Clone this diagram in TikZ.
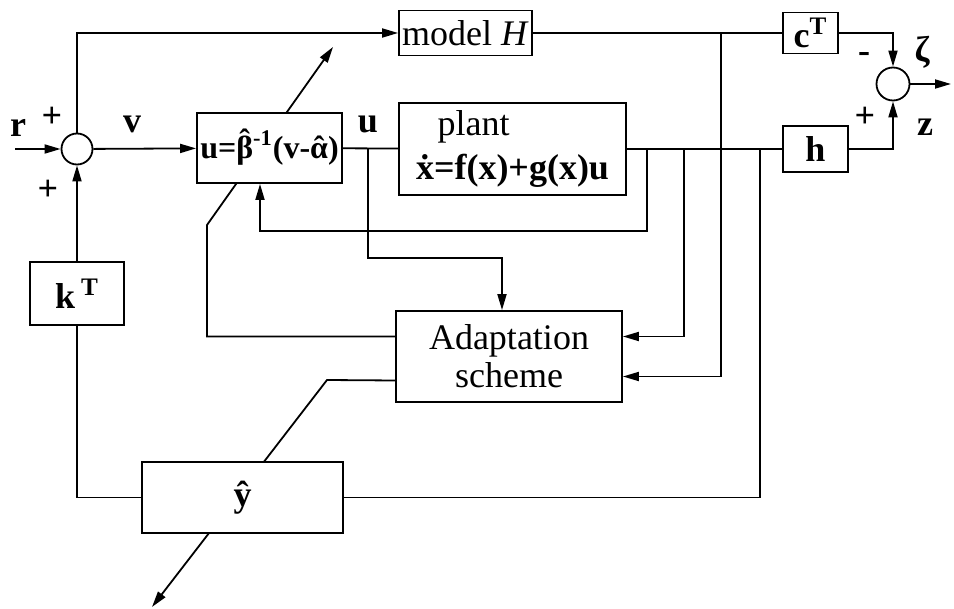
\documentclass[tikz,border=0pt]{standalone}
\usepackage{amsmath,amssymb}
\usepackage{fontspec}
\setmainfont{Liberation Serif}
\usepackage{tikz}
\usetikzlibrary{calc,arrows.meta,backgrounds}
\newcommand{\hatsym}[2]{\ooalign{#1\cr\hidewidth\raisebox{#2}{ˆ}\hidewidth\cr}}
\tikzset{
  blk/.style={draw, line width=0.9pt, fill=white, inner sep=1pt, font=\fontsize{18}{19}\selectfont},
  sumj/.style={draw, circle, line width=0.9pt, fill=white, inner sep=0pt},
  sig/.style={draw, line width=0.9pt, -{Triangle[length=8pt,width=4.5pt]}},
  wire/.style={draw, line width=0.9pt},
  lab/.style={font=\fontsize{18}{19}\selectfont\bfseries, inner sep=0pt},
}

\begin{document}
\begin{tikzpicture}[x=0.5pt,y=-0.5pt]
  \useasboundingbox (0,0) rectangle (954,609);
  % blocks
  \node[sumj, minimum size=15.5pt] (s1) at (77,149) {};
  \node[sumj, minimum size=16.5pt] (s2) at (893,84) {};
  \node[blk, minimum width=72.5pt, minimum height=35pt, font=\fontsize{16}{18}\selectfont\bfseries] (ctrl) at (269.5,148)
    {u=\hatsym{β}{0.2em}\textsuperscript{-1}(v-\hatsym{α}{0pt})};
  \node[blk, minimum width=66.5pt, minimum height=22.5pt] (model) at (465.5,33) {model \textit{H}};
  \node[blk, minimum width=113.5pt, minimum height=46pt, align=left] (plant) at (512.5,149)
    {\hspace*{0.6em}plant\\[3pt]\textbf{\.{x}=f(x)+g(x)u}};
  \node[blk, minimum width=27.5pt, minimum height=20.5pt] (ct) at (810.5,33) {\textbf{c\textsuperscript{T}}};
  \node[blk, minimum width=32.5pt, minimum height=23pt] (h) at (815.5,149) {\textbf{h}};
  \node[blk, minimum width=113pt, minimum height=45.5pt, align=center] (adapt) at (509,356.5) {Adaptation\\scheme};
  \node[blk, minimum width=47pt, minimum height=31.5pt] (kt) at (77,293.5) {\textbf{k\,\textsuperscript{T}}};
  \node[blk, minimum width=100.5pt, minimum height=35.5pt] (yh) at (242.5,497.5) {\textbf{ŷ}};
  % points on the wires
  \coordinate (rin) at (15,149);
  \coordinate (zout) at (951,84);
  \coordinate (uj) at (368,149);
  \coordinate (ua) at (502,258);
  \coordinate (p1) at (647,149);
  \coordinate (p2) at (684,149);
  \coordinate (p4) at (760,149);
  \coordinate (m1) at (721,33);
  \coordinate (fb) at (260,231);
  \coordinate (ad1) at (207,225);
  \coordinate (ad1tip) at (333,47);
  \coordinate (ad2) at (327,380);
  \coordinate (ad2tip) at (152,607);
  % signals
  \draw[sig] (rin) -- (s1);
  \draw[sig] (s1) |- (model);
  \draw[sig] (s1) -- (ctrl);
  \draw[wire] (ctrl) -- (plant);
  \draw[sig] (uj) |- (ua) -- (ua |- adapt.north);
  \draw[wire] (plant) -- (h);
  \draw[wire] (model) -- (ct);
  \draw[sig] (ct) -| (s2);
  \draw[sig] (h) -| (s2);
  \draw[sig] (s2) -- (zout);
  \draw[sig] (p1) |- (fb) -- (fb |- ctrl.south);
  \draw[sig] (p2) |- ($(adapt.east)+(0,-20)$);
  \draw[sig] (m1) |- ($(adapt.east)+(0,20)$);
  \draw[wire] (p4) |- (yh);
  \draw[wire] (yh) -| (kt);
  \draw[sig] (kt) -- (s1);
  \begin{pgfonlayer}{background}
    \draw[sig] ($(adapt.west)+(0,-20)$) -| (ad1) -- (ad1tip);
    \draw[sig] ($(adapt.west)+(0,24)$) -- (ad2) -- (ad2tip);
  \end{pgfonlayer}
  % labels
  \node[lab] (rlab) at (18,128) {r};
  \node[lab] (pl1) at (52,117) {+};
  \node[lab] (pl2) at (48,190) {+};
  \node[lab] (vlab) at (132,124) {v};
  \node[lab] (ulab) at (368,124) {u};
  \node[lab] (mi) at (864,58) {-};
  \node[lab] (pl3) at (865,117) {+};
  \node[lab] (zeta) at (922,52) {ζ};
  \node[lab] (zlab) at (925,127) {z};
\end{tikzpicture}
\end{document}
